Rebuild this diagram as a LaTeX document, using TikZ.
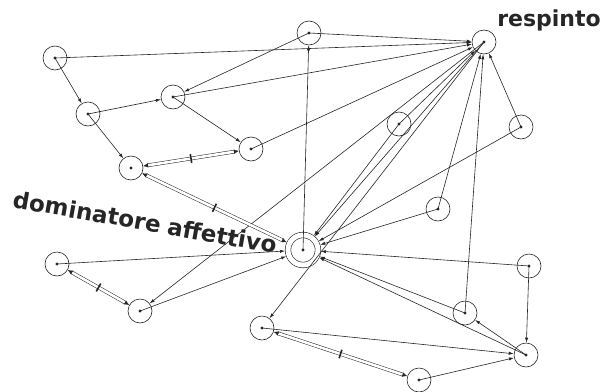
\documentclass[tikz,border=0pt]{standalone}
\usepackage{fontspec}
\usepackage{tikz}
\usetikzlibrary{arrows.meta}
\newfontfamily\sociofont{DejaVu Sans}
\definecolor{ink}{HTML}{262626}
\definecolor{paper}{HTML}{FFFFFF}
\tikzset{
  person/.style={circle, draw=ink, line width=0.6pt, minimum size=24pt, inner sep=0pt,
    path picture={\fill[ink] (path picture bounding box.center) circle (1.7pt);}},
  leader/.style={person, double, double distance=5pt, minimum size=30pt, outer sep=3pt},
  choice/.style={draw=ink, line width=0.6pt, -{Latex[length=5pt,width=3.2pt]}},
  mutual/.style={draw=ink, line width=0.5pt, double, double distance=2.6pt,
    {Latex[length=5pt,width=4.5pt]}-{Latex[length=5pt,width=4.5pt]}},
  tick/.style={sloped, fill=ink, inner sep=0pt, minimum width=1.6pt, minimum height=9pt},
  tag/.style={text=ink, font=\sociofont\bfseries\fontsize{22}{24}\selectfont},
}
\begin{document}
\begin{tikzpicture}[x=1pt, y=-1pt]
  \useasboundingbox[fill=paper] (0,0) rectangle (604,391);
  \foreach \X/\x/\y in {A/55/58, B/88/114, C/173/97, E/251/149, F/131/168,
      G/309/33, R/484/42, H/399/124, I/521/127, J/438/209, K/529/266,
      L/465/313, M/526/355, N/419/380, O/262/328, P/57/264, Q/140/311}
    \node[person] (\X) at (\x,\y) {};
  \node[leader] (D) at (303,250) {};
  % one-way choices
  \foreach \a/\b in {A/B, A/R, B/C, B/F, C/E, G/C, C/R, E/R, G/R, D/G, H/R, H/D,
      R/D, R/O, R/Q, I/R, I/D, J/R, J/D, K/D, K/M, L/R, L/D, M/D, M/L, O/M,
      N/M, P/D, Q/D}
    \draw[choice] (\a.center) -- (\b);
  % mutual choices
  \foreach \a/\b in {E/F, F/D, P/Q, O/N}
    \draw[mutual] (\a) -- node[tick] {} (\b);
  \node[tag] (resp) at (549,20) {respinto};
  \node[tag, rotate=-10, font=\sociofont\bfseries\fontsize{23}{25}\selectfont]
    (dom) at (145,222) {dominatore\hspace{7pt}affettivo};
\end{tikzpicture}
\end{document}
